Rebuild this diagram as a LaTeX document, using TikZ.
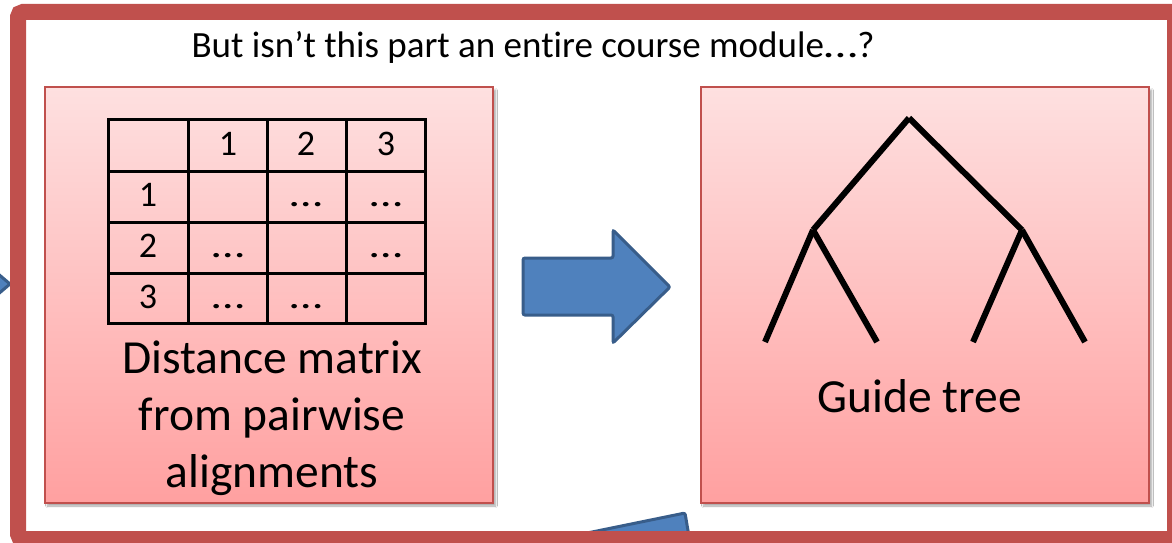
\documentclass[tikz,border=0pt]{standalone}
\usepackage{fontspec}
\setmainfont{Carlito}[Ligatures=NoCommon]
\usetikzlibrary{shadows.blur}
\definecolor{framered}{HTML}{C0504D}
\definecolor{paneltop}{HTML}{FEE0E0}
\definecolor{panelbot}{HTML}{FFA0A0}
\definecolor{arrowfill}{HTML}{4F81BD}
\definecolor{arrowline}{HTML}{385D8A}
\newcommand{\wideell}{\scalebox{1.3}[1]{…}}
\tikzset{
  panel/.style={draw=framered, line width=2pt, top color=paneltop, bottom color=panelbot,
    blur shadow={shadow xshift=2.5pt, shadow yshift=-3pt, shadow blur steps=6, shadow opacity=35},
    inner sep=0pt},
  blockarrow/.style={fill=arrowfill, draw=arrowline, line width=3pt, rounded corners=2pt},
  grid/.style={line width=3pt, line cap=rect},
  cell/.style={anchor=base, inner sep=0pt, font=\fontsize{36}{40}\selectfont},
  branch/.style={line width=6pt},
  bigtext/.style={font=\fontsize{47.5}{57}\selectfont, align=center, inner sep=0pt},
}
\begin{document}
\begin{tikzpicture}[x=1pt, y=-1pt]
\useasboundingbox (0,0) rectangle (1172,543);
\clip (0,0) rectangle (1172,543);
\fill[white] (0,0) rectangle (1172,543);

% arrows partly hidden behind the frame
\draw[blockarrow] (-30,250) -- (10,284) -- (-30,318) -- cycle;
\draw[blockarrow] (455,560) -- (685,513) -- (693,560) -- cycle;

% outer frame
\draw[framered, line width=16pt, rounded corners=5pt] (18,12) rectangle (1175,539);

% title
\node[anchor=base, inner sep=0pt, font=\fontsize{37}{42}\selectfont] (title) at (533,58)
  {But isn’t this part an entire course module\wideell?};

% panels
\node[panel, minimum width=448pt, minimum height=416pt] (matpanel) at (269,295) {};
\node[panel, minimum width=448pt, minimum height=416pt] (treepanel) at (925,295) {};

% distance matrix grid
\draw[grid] (108,119) rectangle (425,323);
\foreach \gx in {188,267,346} \draw[grid] (\gx,119) -- (\gx,323);
\foreach \gy in {171,222,273} \draw[grid] (108,\gy) -- (425,\gy);

% matrix entries
\node[cell] (h1) at (228,155) {1};
\node[cell] (h2) at (306,155) {2};
\node[cell] (h3) at (386,155) {3};
\node[cell] (r1) at (148,206) {1};
\node[cell] (r2) at (148,257) {2};
\node[cell] (r3) at (148,308) {3};
\node[cell] (c12) at (306,206) {\wideell};
\node[cell] (c13) at (386,206) {\wideell};
\node[cell] (c21) at (228,257) {\wideell};
\node[cell] (c23) at (386,257) {\wideell};
\node[cell] (c31) at (228,308) {\wideell};
\node[cell] (c32) at (306,308) {\wideell};

\node[bigtext, anchor=base] (matlabel) at (272,487)
  {Distance matrix\\from pairwise\\alignments};

% block arrow between the panels
\draw[blockarrow] (523,258) -- (613,258) -- (613,230) -- (670,287) -- (613,343)
  -- (613,315) -- (523,315) -- cycle;

% guide tree
\coordinate (root) at (909,118);
\coordinate (inl) at (813,230);
\coordinate (inr) at (1022,230);
\coordinate (la) at (765,342);
\coordinate (lb) at (877,342);
\coordinate (lc) at (973,342);
\coordinate (ld) at (1085,342);
\draw[branch] (root) -- (inl);
\draw[branch] (root) -- (inr);
\draw[branch] (inl) -- (la);
\draw[branch] (inl) -- (lb);
\draw[branch] (inr) -- (lc);
\draw[branch] (inr) -- (ld);

\node[bigtext, anchor=base] (treelabel) at (920,412) {Guide tree};
\end{tikzpicture}
\end{document}
